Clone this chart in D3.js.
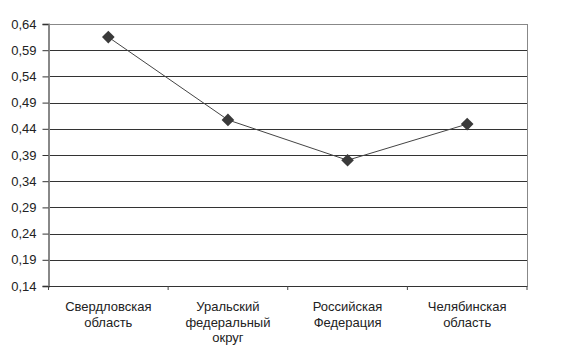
<!DOCTYPE html>
<html>
<head>
<meta charset="utf-8">
<script src="https://cdn.jsdelivr.net/npm/d3@7"></script>
<style>
  body { margin: 0; background: #fff; }
  svg { display: block; font-family: Arial, "Liberation Sans", sans-serif; }
</style>
</head>
<body>
<div id="chart"></div>
<script>
// data
const categories = [
    ["Свердловская", "область"],
    ["Уральский", "федеральный", "округ"],
    ["Российская", "Федерация"],
    ["Челябинская", "область"]
];
const values = [0.615, 0.457, 0.380, 0.449];
const yTicks = [0.14, 0.19, 0.24, 0.29, 0.34, 0.39, 0.44, 0.49, 0.54, 0.59, 0.64];

const width = 570, height = 354;
const margin = { top: 24, right: 43, bottom: 68, left: 48.5 };
const innerW = width - margin.left - margin.right;
const innerH = height - margin.top - margin.bottom;

const svg = d3.select("#chart").append("svg")
    .attr("width", width)
    .attr("height", height);

const plot = svg.append("g")
    .attr("transform", `translate(${margin.left},${margin.top})`);

const x = d3.scaleBand()
    .domain(d3.range(categories.length))
    .range([0, innerW]);

const y = d3.scaleLinear()
    .domain([0.14, 0.64])
    .range([innerH, 0]);

// gridlines
plot.append("g")
    .selectAll("line")
    .data(yTicks.slice(1, -1))
    .enter()
    .append("line")
    .attr("x1", 0)
    .attr("x2", innerW)
    .attr("y1", d => Math.round(y(d)) + 0.5)
    .attr("y2", d => Math.round(y(d)) + 0.5)
    .style("stroke", "#333")
    .style("stroke-width", 1);

// top and right border
plot.append("line")
    .attr("x1", 0).attr("x2", innerW)
    .attr("y1", 0.5).attr("y2", 0.5)
    .style("stroke", "#888");
plot.append("line")
    .attr("x1", innerW + 0.5).attr("x2", innerW + 0.5)
    .attr("y1", 0).attr("y2", innerH)
    .style("stroke", "#888");

// y axis
const yAxis = plot.append("g")
    .call(d3.axisLeft(y)
        .tickValues(yTicks)
        .tickSize(6)
        .tickPadding(6)
        .tickFormat(d => d3.format(".2f")(d).replace(".", ",")));
yAxis.select(".domain").style("stroke", "#888").style("stroke-width", 2);
yAxis.selectAll(".tick line").style("stroke", "#333");
yAxis.selectAll("text")
    .style("font-size", "13px")
    .style("fill", "#222");

// x axis
const xAxis = plot.append("g")
    .attr("transform", `translate(0,${innerH})`)
    .call(d3.axisBottom(x).tickSize(0).tickFormat(""));
xAxis.select(".domain").style("stroke", "#333");

// category boundary ticks
plot.append("g")
    .selectAll("line")
    .data(d3.range(categories.length + 1))
    .enter()
    .append("line")
    .attr("x1", i => i * x.bandwidth())
    .attr("x2", i => i * x.bandwidth())
    .attr("y1", innerH)
    .attr("y2", innerH + 4)
    .style("stroke", "#444");

// category labels
const labels = plot.append("g")
    .selectAll("text")
    .data(categories)
    .enter()
    .append("text")
    .attr("text-anchor", "middle")
    .attr("transform", (d, i) => `translate(${x(i) + x.bandwidth() / 2},${innerH + 25})`)
    .style("font-size", "13px")
    .style("fill", "#222");

labels.selectAll("tspan")
    .data(d => d)
    .enter()
    .append("tspan")
    .attr("x", 0)
    .attr("dy", (d, j) => j === 0 ? 0 : 15.5)
    .text(d => d);

// line
const line = d3.line()
    .x((d, i) => x(i) + x.bandwidth() / 2)
    .y(d => y(d));

plot.append("path")
    .datum(values)
    .attr("d", line)
    .style("fill", "none")
    .style("stroke", "#444")
    .style("stroke-width", 1);

// diamond markers
plot.selectAll(".marker")
    .data(values)
    .enter()
    .append("path")
    .attr("class", "marker")
    .attr("d", d3.symbol(d3.symbolSquare, 80))
    .attr("transform", (d, i) => `translate(${x(i) + x.bandwidth() / 2},${y(d)}) rotate(45)`)
    .style("fill", "#3a3a3a");
</script>
</body>
</html>
